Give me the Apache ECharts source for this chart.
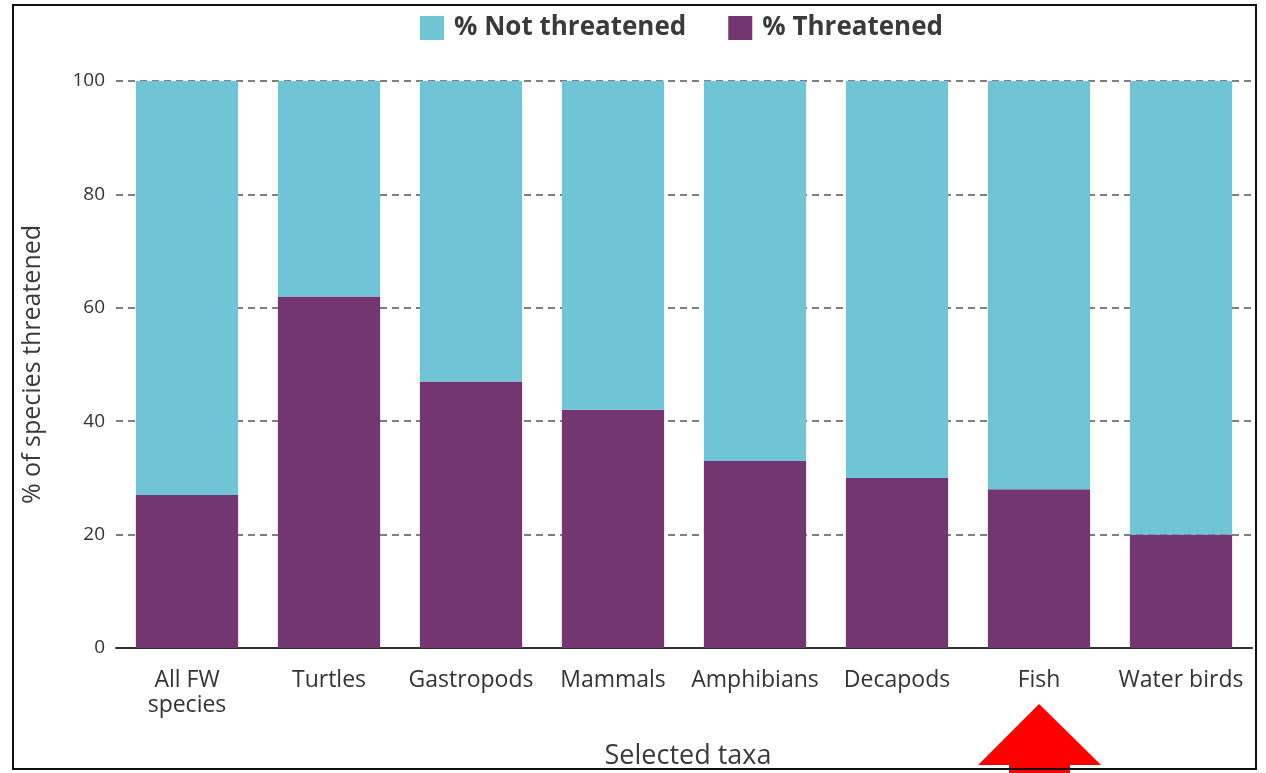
<!DOCTYPE html>
<html>
<head>
<meta charset="utf-8">
<script src="https://cdn.jsdelivr.net/npm/echarts@6/dist/echarts.min.js"></script>
<style>
  html, body { margin: 0; padding: 0; background: #fff; }
  #chart { width: 1266px; height: 773px; }
</style>
</head>
<body>
<div id="chart"></div>
<script>
// Freshwater taxa and share of species threatened (%)
const categories = ['All FW\nspecies', 'Turtles', 'Gastropods', 'Mammals', 'Amphibians', 'Decapods', 'Fish', 'Water birds'];
const threatened = [27, 62, 47, 42, 33, 30, 28, 20];
const notThreatened = [73, 38, 53, 58, 67, 70, 72, 80];
const yTicks = [0, 20, 40, 60, 80, 100];
const highlighted = 'Fish';

const FONT = '"Open Sans", "Noto Sans", sans-serif';
const chart = echarts.init(document.getElementById('chart'), null, { renderer: 'canvas' });

chart.setOption({
  animation: false,
  textStyle: { fontFamily: FONT },
  legend: {
    top: 10,
    left: 415,
    itemWidth: 24,
    itemHeight: 24,
    itemGap: 42,
    icon: 'rect',
    data: ['% Not threatened', '% Threatened'],
    textStyle: { fontFamily: FONT, fontSize: 26, fontWeight: 'bold', color: '#3a3a3a', padding: [0, 0, 0, 5] }
  },
  grid: { left: 116, right: 14, top: 81, bottom: 125, outerBoundsMode: 'none', containLabel: false },
  xAxis: {
    type: 'category',
    data: categories,
    name: 'Selected taxa',
    nameLocation: 'middle',
    nameGap: 95,
    nameTextStyle: { fontFamily: FONT, fontSize: 27, color: '#3a3a3a', padding: [0, 0, 0, 8] },
    axisLine: { show: true, lineStyle: { color: '#333', width: 2 } },
    axisTick: { show: false },
    axisLabel: { fontFamily: FONT, fontSize: 23, color: '#333', margin: 20, lineHeight: 25, interval: 0 }
  },
  yAxis: {
    type: 'value',
    min: yTicks[0],
    max: yTicks[yTicks.length - 1],
    interval: 20,
    name: '% of species threatened',
    nameLocation: 'middle',
    nameRotate: 90,
    nameGap: 71,
    nameTextStyle: { fontFamily: FONT, fontSize: 25, color: '#3a3a3a' },
    axisLine: { show: false },
    axisTick: { show: false },
    axisLabel: { fontFamily: FONT, fontSize: 19, color: '#333', margin: 11 },
    splitLine: { show: true, lineStyle: { color: '#555', type: [7, 5], width: 1.5 } }
  },
  series: [
    {
      name: '% Threatened',
      type: 'bar',
      stack: 'total',
      barWidth: '72%',
      data: threatened,
      itemStyle: { color: '#743670' }
    },
    {
      name: '% Not threatened',
      type: 'bar',
      stack: 'total',
      barWidth: '72%',
      data: notThreatened,
      itemStyle: { color: '#6fc5d6' }
    }
  ]
});

// Frame and pointer arrow under the highlighted category
const H = 773;
const cx = chart.convertToPixel({ xAxisIndex: 0 }, categories.indexOf(highlighted));
const tipY = 704;
chart.setOption({
  graphic: [
    {
      type: 'polygon',
      silent: true,
      shape: {
        points: [
          [cx, tipY], [cx + 62, tipY + 61], [cx + 31, tipY + 61], [cx + 31, H],
          [cx - 30, H], [cx - 30, tipY + 61], [cx - 61, tipY + 61]
        ]
      },
      style: { fill: '#ff0000' },
      z: 50
    },
    {
      type: 'rect',
      silent: true,
      shape: { x: 13, y: 5, width: 1243, height: 764 },
      style: { fill: 'none', stroke: '#111', lineWidth: 2 },
      z: 60
    }
  ]
});
</script>
</body>
</html>
